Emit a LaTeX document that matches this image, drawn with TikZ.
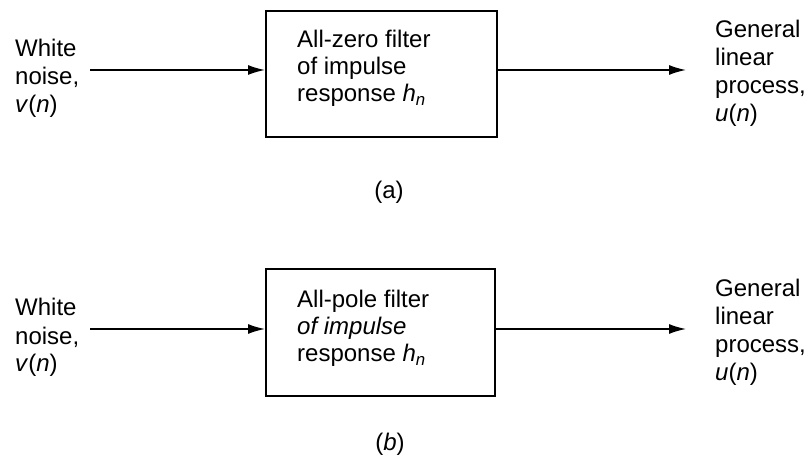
\documentclass[tikz,border=0pt]{standalone}
\usepackage{fontspec}
\setmainfont{Liberation Sans}
\usetikzlibrary{arrows.meta}
\tikzset{
  blk/.style={draw, line width=1.8pt, anchor=north west, inner sep=0pt},
  lbl/.style={align=left, anchor=base west, inner sep=0pt, font=\fontsize{24}{28}\selectfont},
  boxtxt/.style={align=left, anchor=base west, inner sep=0pt, font=\fontsize{24}{27}\selectfont},
  captxt/.style={inner sep=0pt, font=\fontsize{24}{28}\selectfont},
  sig/.style={line width=1.5pt, -{Latex[length=17pt,width=10pt]}}
}
\newcommand{\hn}{\textit{h}\textsubscript{\textit{n}}}
\begin{document}
\begin{tikzpicture}[x=1pt,y=-1pt]
\useasboundingbox (0,0) rectangle (809,462);
% (a)
\node[blk, minimum width=231pt, minimum height=126pt] (boxa) at (265,10) {};
\node[boxtxt] (ta) at (297,102) {All-zero filter\\of impulse\\response \hn};
\node[lbl] (ina) at (15,113) {White\\noise,\\\textit{v}(\textit{n})};
\node[lbl] (outa) at (715,122) {General\\linear\\process,\\\textit{u}(\textit{n})};
\coordinate (sa) at (90,70);
\coordinate (ea) at (686,70);
\draw[sig] (sa) -- (boxa.west |- sa);
\draw[sig] (boxa.east |- ea) -- (ea);
\node[captxt] (capa) at (389,192) {(a)};
% (b)
\node[blk, minimum width=229pt, minimum height=127pt] (boxb) at (265,268) {};
\node[boxtxt] (tb) at (297,362) {All-pole filter\\\textit{of impulse}\\response \hn};
\node[lbl] (inb) at (15,372) {White\\noise,\\\textit{v}(\textit{n})};
\node[lbl] (outb) at (715,381) {General\\linear\\process,\\\textit{u}(\textit{n})};
\coordinate (sb) at (90,329);
\coordinate (eb) at (686,329);
\draw[sig] (sb) -- (boxb.west |- sb);
\draw[sig] (boxb.east |- eb) -- (eb);
\node[captxt] (capb) at (390,444) {(\textit{b})};
\end{tikzpicture}
\end{document}
